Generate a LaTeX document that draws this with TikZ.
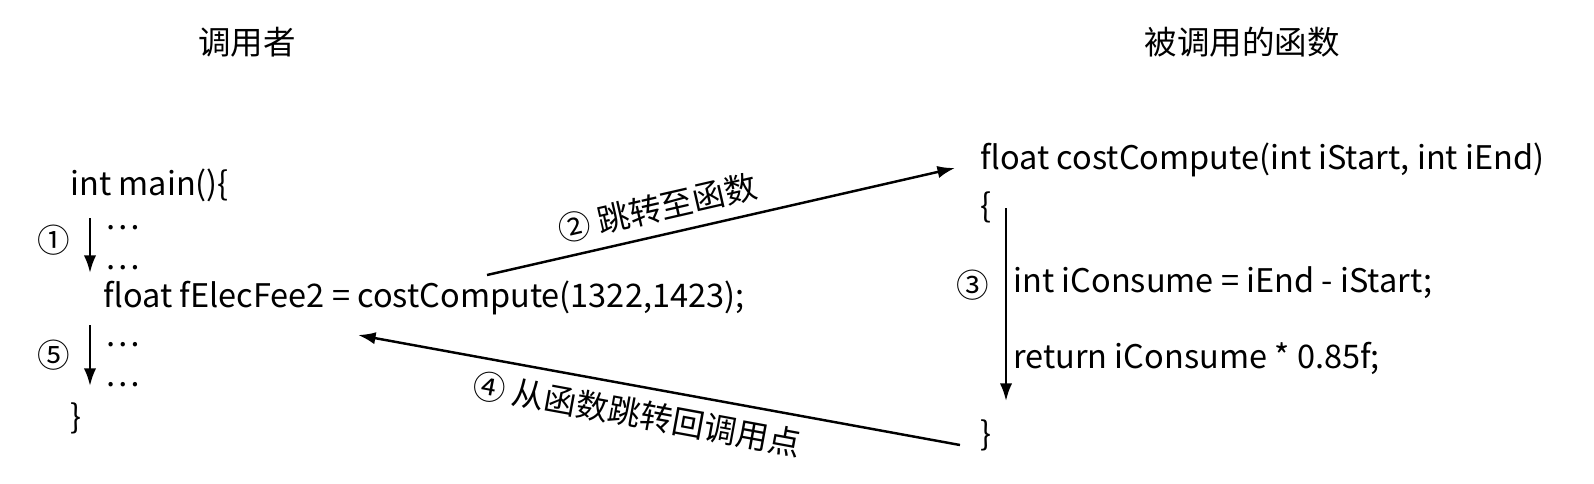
\documentclass[tikz,border=0pt]{standalone}
\usepackage{fontspec}
\setmainfont{Noto Sans CJK SC}
\usetikzlibrary{arrows.meta, positioning}

\begin{document}
\begin{tikzpicture}[
    code/.style={anchor=west, inner sep=0pt, font=\fontsize{18.5pt}{22pt}\selectfont},
    label/.style={font=\fontsize{18.5pt}{22pt}\selectfont},
    flow/.style={line width=1.4pt, -{Latex[length=10pt,width=7pt]}}
  ]
  \useasboundingbox (0,0) rectangle (31.88,-9.66);

  % Titles
  \node[label] (callerT) at (4.94,-0.84) {调用者};
  \node[label] (calleeT) at (24.84,-0.84) {被调用的函数};

  % Caller
  \node[code] (main) at (1.40,-3.70) {int main()\{};
  \node[code] (d1) at (2.10,-4.56) {…};
  \node[code] (d2) at (2.10,-5.36) {…};
  \node[code] (call) at (2.06,-5.96) {float fElecFee2 = costCompute(1322,1423);};
  \node[code] (d3) at (2.10,-6.90) {…};
  \node[code] (d4) at (2.10,-7.70) {…};
  \node[code] (endA) at (1.40,-8.36) {\}};
  \node[code] (s1) at (0.74,-4.80) {①};
  \node[code] (s5) at (0.74,-7.10) {⑤};

  \coordinate (a1) at (1.80,-4.36);
  \coordinate (b1) at (1.80,-5.46);
  \coordinate (a5) at (1.80,-6.50);
  \coordinate (b5) at (1.80,-7.72);
  \draw[flow] (a1) -- (b1);
  \draw[flow] (a5) -- (b5);

  % Callee
  \node[code] (sig) at (19.60,-3.20) {float costCompute(int iStart, int iEnd)};
  \node[code] (open) at (19.60,-4.14) {\{};
  \node[code] (consume) at (20.26,-5.66) {int iConsume = iEnd - iStart;};
  \node[code] (ret) at (20.26,-7.16) {return iConsume * 0.85f;};
  \node[code] (endB) at (19.60,-8.70) {\}};
  \node[code] (s3) at (19.12,-5.70) {③};

  \coordinate (a3) at (20.12,-4.16);
  \coordinate (b3) at (20.12,-8.02);
  \draw[flow] (a3) -- (b3);

  % Jumps
  \coordinate (go) at (9.74,-5.50);
  \coordinate (in) at (19.10,-3.36);
  \coordinate (out) at (19.20,-8.90);
  \coordinate (back) at (7.16,-6.70);
  \draw[flow] (go) -- (in);
  \draw[flow] (out) -- (back);

  \node[label, rotate=12.9] (l2) at (13.15,-4.16) {② 跳转至函数};
  \node[label, rotate=-10.4] (l4) at (12.75,-8.28) {④ 从函数跳转回调用点};
\end{tikzpicture}
\end{document}
